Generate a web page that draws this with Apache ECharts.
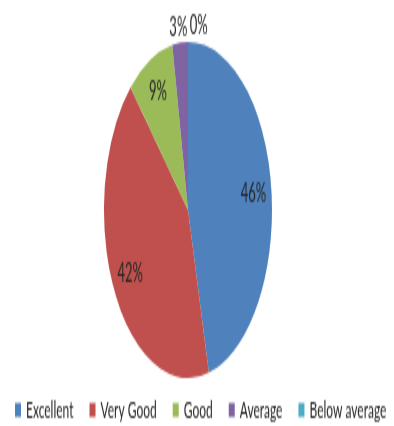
<!DOCTYPE html>
<html>
<head>
<meta charset="utf-8">
<script src="https://cdn.jsdelivr.net/npm/echarts@6/dist/echarts.min.js"></script>
<style>
  html, body { margin: 0; padding: 0; background: #fff; overflow: hidden; }
  /* The chart is drawn at half height and stretched vertically into an oval pie */
  #chart { position: absolute; left: 0; top: 0; width: 394px; height: 213px;
           transform: scaleY(2); transform-origin: 0 0; }
</style>
</head>
<body>
<div id="chart"></div>
<script>
const categories = ['Excellent', 'Very Good', 'Good', 'Average', 'Below average'];
const shares = [46, 42, 9, 3, 0];
const colors = ['#4F81BD', '#C0504D', '#9BBB59', '#8064A2', '#4BACC6'];

// Where each slice's percentage sits: inside the slice, or just outside the rim
const labelPlace = ['inside', 'inside', 'inside', 'outside', 'outside'];

const textColor = '#262626';
const fontFamily = 'Lato, "Open Sans", sans-serif';
const pieCenter = [188, 105];
const pieRadius = 84;

function sliceData(showLabel) {
  return categories.map((name, i) => ({
    name: name,
    value: shares[i],
    label: { show: showLabel(i) }
  }));
}

const labelText = {
  formatter: '{c}%',
  color: textColor,
  fontFamily: fontFamily,
  fontSize: 13
};

const chart = echarts.init(document.getElementById('chart'), null, { renderer: 'canvas' });
chart.setOption({
  animation: false,
  color: colors,
  legend: {
    data: categories,
    left: 15,
    top: 199,
    padding: 0,
    icon: 'rect',
    itemWidth: 6,
    itemHeight: 7,
    itemGap: 16,
    textStyle: { color: textColor, fontFamily: fontFamily, fontSize: 12 }
  },
  series: [
    // The visible pie; the small "Average" slice labels itself above the rim
    {
      type: 'pie',
      center: pieCenter,
      radius: pieRadius,
      startAngle: 90,
      clockwise: true,
      avoidLabelOverlap: false,
      data: sliceData(i => labelPlace[i] === 'outside' && shares[i] > 0),
      itemStyle: { borderWidth: 0 },
      label: Object.assign({ position: 'outside', distanceToLabelLine: 1 }, labelText),
      labelLine: { show: false, length: 8, length2: 0 },
      labelLayout: { align: 'center' },
      emphasis: { disabled: true }
    },
    // Transparent twin, larger than the visible pie, so that its inside labels
    // land about three quarters of the way out from the centre
    {
      type: 'pie',
      silent: true,
      center: pieCenter,
      radius: pieRadius * 1.5,
      startAngle: 90,
      clockwise: true,
      avoidLabelOverlap: false,
      data: sliceData(i => labelPlace[i] === 'inside'),
      itemStyle: { color: 'rgba(0,0,0,0)', borderWidth: 0 },
      label: Object.assign({ position: 'inside' }, labelText),
      labelLine: { show: false },
      emphasis: { disabled: true }
    },
    // Transparent twin laid out the other way round with a minimum angle, so the
    // empty "Below average" slice still gets its label just right of the top
    {
      type: 'pie',
      silent: true,
      center: pieCenter,
      radius: pieRadius,
      startAngle: 90,
      clockwise: false,
      minAngle: 1,
      avoidLabelOverlap: false,
      data: sliceData(i => labelPlace[i] === 'outside' && shares[i] === 0),
      itemStyle: { color: 'rgba(0,0,0,0)', borderWidth: 0 },
      label: Object.assign({ position: 'outside', distanceToLabelLine: 1 }, labelText),
      labelLine: { show: false, length: 8, length2: 0 },
      emphasis: { disabled: true }
    }
  ]
});
</script>
</body>
</html>
